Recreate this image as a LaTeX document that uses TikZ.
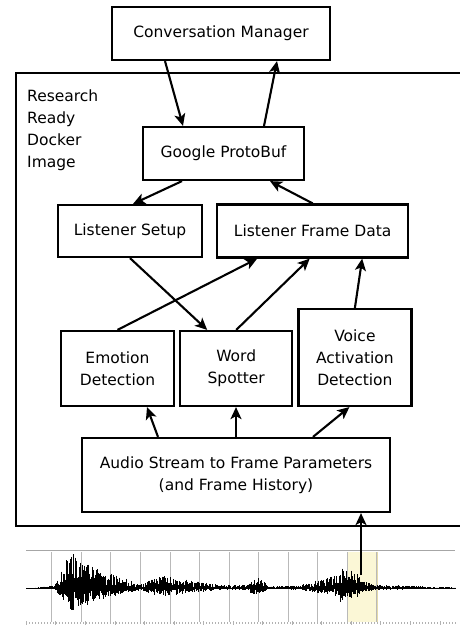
\documentclass[tikz,border=0pt]{standalone}
\usepackage{fontspec}
\setmainfont{DejaVu Sans}
\usepackage{xcolor}
\usetikzlibrary{positioning,arrows.meta,calc}

\definecolor{selbg}{RGB}{251,247,214}
\definecolor{selline}{RGB}{228,218,168}

\begin{document}
\begin{tikzpicture}[
  x=1pt, y=-1pt,
  font=\fontsize{15.5}{22}\selectfont,
  every node/.style={align=center},
  blk/.style={draw, line width=2.2pt, fill=white, inner sep=0pt},
  flow/.style={-{Stealth[length=12pt,width=11pt,inset=3pt]}, line width=2.1pt},
  wavegrid/.style={gray!55, line width=0.7pt}
]
\useasboundingbox (0,0) rectangle (460,633);

% docker frame, open to the right
\draw[line width=2.2pt] (475,73) -| (16,526) -- (475,526);
\node[anchor=north west, align=left, inner sep=0pt] (tag) at (27,90) {Research\\Ready\\Docker\\Image};

\node[blk, minimum width=218pt, minimum height=53pt] (cm) at (221,33.5) {Conversation Manager};
\node[blk, minimum width=161pt, minimum height=53pt] (gp) at (223.5,153.5) {Google ProtoBuf};
\node[blk, minimum width=144pt, minimum height=52pt] (ls) at (130,231) {Listener Setup};
\node[blk, minimum width=191pt, minimum height=53pt, right=13pt of ls] (lfd) {Listener Frame Data};
\node[blk, minimum width=113pt, minimum height=75pt] (ed) at (117.5,368.5) {Emotion\\Detection};
\node[blk, minimum width=112pt, minimum height=75pt, right=4pt of ed] (ws) {Word\\Spotter};
\node[blk, minimum width=113pt, minimum height=97pt, right=4pt of ws.south east, anchor=south west] (vad) {Voice\\Activation\\Detection};
\node[blk, minimum width=308pt, minimum height=74pt] (as) at (236,475) {Audio Stream to Frame Parameters\\(and Frame History)};

\draw[flow] ([xshift=-56pt]cm.south) -- ([xshift=-40.5pt]gp.north);
\draw[flow] ([xshift=40.5pt]gp.north) -- ([xshift=56pt]cm.south);
\draw[flow] ([xshift=-41.5pt]gp.south) -- ([xshift=3pt]ls.north);
\draw[flow] (lfd.north) -- ([xshift=46.5pt]gp.south);
\draw[flow] (ed.north) -- ([xshift=-55.5pt]lfd.south);
\draw[flow] (ls.south) -- ([xshift=-29pt]ws.north);
\draw[flow] (ws.north) -- ([xshift=-3pt]lfd.south);
\draw[flow] (vad.north) -- ([xshift=49.5pt]lfd.south);
\draw[flow] ([xshift=-78pt]as.north) -- ([xshift=29.5pt]ed.south);
\draw[flow] (as.north) -- (as.north |- ws.south);
\draw[flow] ([xshift=77pt]as.north) -- ([xshift=-5.5pt]vad.south);

% waveform strip
\fill[selbg] (347,552) rectangle (377,622);
\draw[selline, line width=0.6pt] (347,552) -- (347,622) (377,552) -- (377,622);
\draw[gray!70, line width=0.8pt] (26,550) -- (455,550);
\foreach \i in {0,...,11} \draw[wavegrid] ({51.7+29.55*\i},552) -- ++(0,70);
\foreach \i in {0,...,143} \draw[gray!60, line width=0.3pt] ({26+3*\i},622) -- ++(0,2);
\foreach \i in {0,...,14} \draw[gray!60, line width=0.3pt] ({26+29.55*\i},621) -- ++(0,4);
\draw[line width=0.6pt] (26,588) -- (455,588);

\pgfmathsetseed{11}
\foreach \s/\e/\a/\b in {35/55/0.5/3, 55/70/5/36, 70/90/36/26, 90/135/22/6, 135/145/4/4,
  145/165/6/15, 165/215/12/4, 215/248/3/3, 248/258/7/11, 258/268/11/3, 268/300/1.5/3,
  300/340/3/14, 340/360/22/14, 360/375/8/3, 375/425/3/2, 425/455/1/0.8} {
  \pgfmathtruncatemacro\n{(\e-\s)/0.6}
  \foreach \k in {0,...,\n} {
    \pgfmathsetmacro\xx{\s+0.6*\k}
    \pgfmathsetmacro\amp{\a+(\b-\a)*\k/\n}
    \pgfmathsetmacro\up{\amp*(0.15+0.85*rnd)}
    \pgfmathsetmacro\dn{\amp*0.65*(0.15+0.85*rnd)}
    \draw[line width=0.5pt] (\xx,{588-\up}) -- (\xx,{588+\dn});
  }
}

\coordinate (tap) at (361,575);
\draw[flow] (tap) -- (tap |- as.south);
\end{tikzpicture}
\end{document}
